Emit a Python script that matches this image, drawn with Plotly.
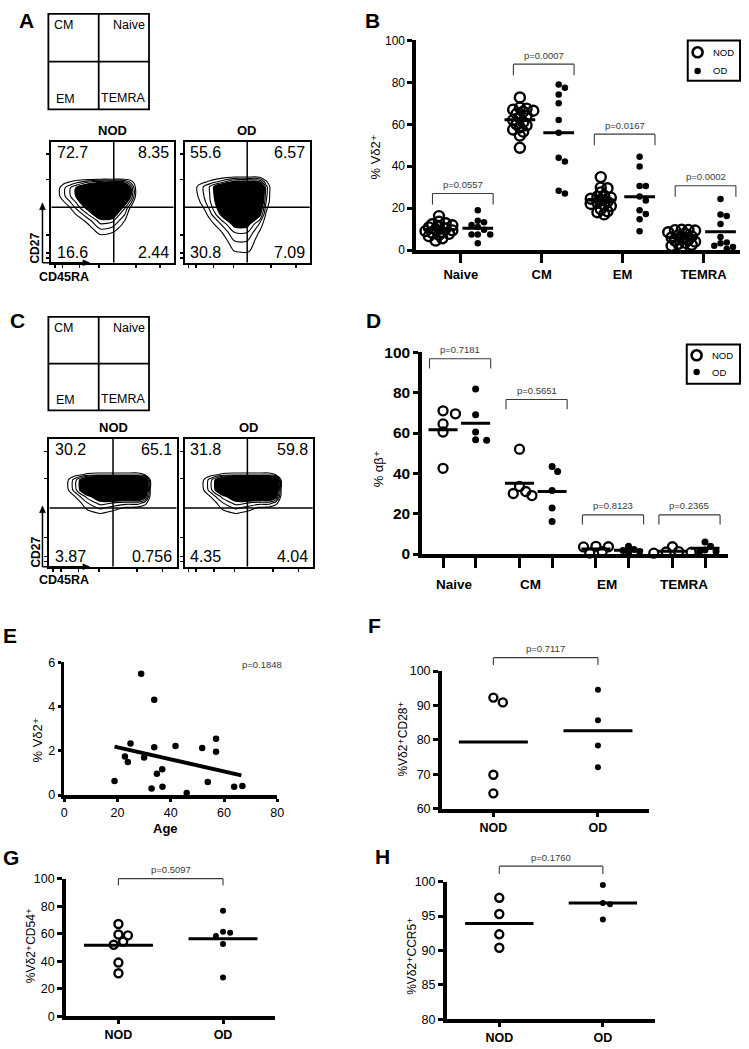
import numpy as np
import plotly.graph_objects as go

W, H = 749, 1049
FONT = "Liberation Sans, Arial, Helvetica, DejaVu Sans, sans-serif"

# ---------------------------------------------------------------- data
subsets = ["Naive", "CM", "EM", "TEMRA"]

# Panel B : % Vd2+ in each memory subset
B_naive_nod = [16.2, 13.5, 12.8, 12.3, 11.8, 11.2, 10.8, 10.3, 9.8, 9.4, 9.0, 8.6, 8.2, 7.7, 7.2, 6.6, 5.6, 4.5]
B_naive_od = [19.0, 14.0, 13.3, 12.0, 11.0, 9.7, 7.4, 7.4, 7.4, 3.2]
B_cm_nod = [72.8, 68.0, 67.5, 67.0, 66.5, 66.0, 65.0, 64.0, 63.0, 62.0, 61.0, 60.0, 59.5, 58.5, 57.5, 56.5, 54.6, 48.8]
B_cm_od = [79.0, 77.4, 74.2, 70.0, 62.0, 56.0, 44.0, 42.2, 28.3, 27.0]
B_em_nod = [34.8, 29.8, 29.5, 27.5, 26.0, 25.5, 25.0, 24.5, 24.0, 23.0, 22.5, 21.5, 22.0, 21.0, 19.5, 18.5, 18.0, 17.0]
B_em_od = [44.5, 39.9, 30.6, 30.6, 25.5, 23.6, 19.0, 17.2, 14.7, 9.0]
B_temra_nod = [9.7, 9.6, 9.5, 9.3, 8.5, 7.8, 7.0, 6.5, 6.0, 5.5, 5.0, 4.5, 4.0, 3.5, 3.0, 2.5, 2.0, 1.2]
B_temra_od = [24.4, 17.0, 16.2, 12.4, 6.2, 3.6, 3.2, 2.0, 1.5, 0.5]
B_pvalues = ["p=0.0557", "p=0.0007", "p=0.0167", "p=0.0002"]
B_bracket_top = [27.0, 88.7, 55.3, 30.7]

# Panel D : % alpha-beta+ in each memory subset
D_naive_nod = [71.0, 64.5, 69.5, 60.5, 42.5]
D_naive_od = [81.8, 69.0, 60.5, 56.7, 56.4]
D_cm_nod = [52.0, 33.5, 31.0, 30.0, 29.0]
D_cm_od = [43.4, 40.9, 31.5, 22.8, 16.1]
D_em_nod = [3.8, 3.5, 3.6, 1.2, 0.5]
D_em_od = [3.8, 2.2, 1.8, 1.2, 0.6]
D_temra_nod = [3.6, 1.2, 1.0, 0.8, 0.4]
D_temra_od = [6.0, 3.8, 2.0, 1.2, 1.0]
D_pvalues = ["p=0.7181", "p=0.5651", "p=0.8123", "p=0.2365"]
D_bracket_top = [96.8, 76.6, 19.4, 19.4]

# Panel E : % Vd2+ versus age
E_age = [18.9, 22.8, 23.9, 24.9, 28.9, 30.0, 32.8, 33.8, 33.8, 34.8, 36.8, 36.9, 41.8, 46.0, 51.8, 53.9, 57.0, 57.0, 63.8, 66.9]
E_vd2 = [0.64, 1.74, 1.49, 2.33, 5.48, 1.70, 0.30, 4.31, 2.16, 0.96, 1.17, 0.37, 2.22, 0.09, 2.13, 0.59, 2.54, 1.96, 0.38, 0.41]
E_fit_age = [18.9, 66.5]
E_fit_vd2 = [2.19, 0.89]
E_pvalue = "p=0.1848"

# Panels F, G, H : NOD vs OD
groups = ["NOD", "OD"]
F_nod = [90.9, 92.3, 69.9, 64.5]
F_od = [94.6, 85.7, 78.4, 72.1]
F_pvalue = "p=0.7117"
G_nod = [67.1, 59.5, 58.8, 54.4, 52.0, 39.1, 31.3]
G_od = [76.7, 61.4, 60.7, 58.4, 52.5, 28.2]
G_pvalue = "p=0.5097"
H_nod = [97.65, 95.3, 92.35, 90.4]
H_od = [99.5, 96.9, 96.7, 94.5]
H_pvalue = "p=0.1760"

# Panels A, C : flow cytometry (CD45RA x CD27) density grids and gates
quad_names = ["CM", "Naive", "EM", "TEMRA"]
A_nod_pct = ["72.7", "8.35", "16.6", "2.44"]
A_od_pct = ["55.6", "6.57", "30.8", "7.09"]
C_nod_pct = ["30.2", "65.1", "3.87", "0.756"]
C_od_pct = ["31.8", "59.8", "4.35", "4.04"]
A_nod_gate = [0.51, 0.46]
A_od_gate = [0.50, 0.46]
C_nod_gate = [0.50, 0.46]
C_od_gate = [0.49, 0.46]

A_nod_x = [0, .05, .1, .15, .2, .3, .4, .5, .6, .65, .7, 1]
A_nod_y = [0, .15, .22, .28, .35, .45, .55, .62, .66, .7, 1]
A_nod_z = [
    [0, 0, 0, 0, 0, 0, 0, 0, 0, 0, 0, 0],
    [0, 0, 0, 0, 0, 0, 0, 0, 0, 0, 0, 0],
    [0, 0, 0, 0, 0, 0, 0.7, 0.4, 0, 0, 0, 0],
    [0, 0, 0, 0, 0, 0.3, 2, 1.6, 0.2, 0, 0, 0],
    [0, 0, 0, 0, 0, 1.5, 3.6, 3.3, 1, 0, 0, 0],
    [0, 0, 0, 0.8, 2, 4.5, 7.5, 7.5, 3, 0.5, 0, 0],
    [0, 0.55, 1.7, 2.85, 4, 6.3, 9, 10, 7, 4, 0, 0],
    [0, 0.55, 1.7, 2.85, 4, 6.3, 9, 10, 7, 4, 0, 0],
    [0, 0.3, 0.8, 1.3, 2, 3.5, 4.5, 4.5, 4, 2, 0, 0],
    [0, 0, 0, 0, 0, 0, 0, 0, 0, 0, 0, 0],
    [0, 0, 0, 0, 0, 0, 0, 0, 0, 0, 0, 0],
]
A_od_x = [0, .05, .1, .15, .2, .3, .4, .5, .6, .65, .7, 1]
A_od_y = [0, .06, .1, .18, .25, .32, .4, .5, .58, .63, .67, .72, 1]
A_od_z = [
    [0, 0, 0, 0, 0, 0, 0, 0, 0, 0, 0, 0],
    [0, 0, 0, 0, 0, 0, 0.3, 0.4, 0, 0, 0, 0],
    [0, 0, 0, 0, 0, 0, 1.1, 1.3, 0, 0, 0, 0],
    [0, 0, 0, 0, 0, 0.2, 2, 2, 0.3, 0, 0, 0],
    [0, 0, 0, 0, 0, 1, 3, 3, 0.8, 0, 0, 0],
    [0, 0, 0, 0, 0.3, 2.2, 4.6, 4.6, 1.8, 0.1, 0, 0],
    [0, 0, 0, 0.3, 1.5, 4.5, 7.5, 7.5, 4.5, 0.8, 0, 0],
    [0, 0, 0.5, 1.5, 2.8, 5.5, 9, 9, 7, 2, 0, 0],
    [0, 0, 1, 2, 3, 6, 10, 10, 8, 2.5, 0, 0],
    [0, 0, 1, 2, 3, 6, 10, 10, 8, 2.5, 0, 0],
    [0, 0, 0.3, 0.7, 1.2, 2.5, 4.5, 4.5, 4, 1.2, 0, 0],
    [0, 0, 0, 0, 0, 0, 0, 0, 0, 0, 0, 0],
    [0, 0, 0, 0, 0, 0, 0, 0, 0, 0, 0, 0],
]
C_nod_x = [0, .1, .15, .2, .25, .3, .4, .5, .6, .7, .75, .8, 1]
C_od_x = [0, .1, .15, .2, .25, .3, .4, .5, .58, .66, .71, .76, 1]
C_y = [0, .38, .42, .46, .5, .55, .6, .68, .72, .76, 1]
C_z = [
    [0, 0, 0, 0, 0, 0, 0, 0, 0, 0, 0, 0, 0],
    [0, 0, 0, 0, 0, 0, 0, 0, 0, 0, 0, 0, 0],
    [0, 0, 0, 0, 0, 0.5, 1.1, 0.6, 0, 0, 0, 0, 0],
    [0, 0, 0, 0, 0.5, 1.3, 2.2, 1.5, 0.8, 0.6, 0.3, 0, 0],
    [0, 0, 0, 0.3, 1, 2, 3.5, 3, 2.5, 2.5, 1.5, 0, 0],
    [0, 0, 0.2, 1, 2.2, 3.5, 5.5, 7, 7, 7, 5, 0, 0],
    [0, 0, 1, 2.5, 4.5, 7, 10, 10, 10, 10, 7, 0, 0],
    [0, 0, 1, 2.5, 4.5, 7, 10, 10, 10, 10, 7, 0, 0],
    [0, 0, 0.2, 0.5, 0.9, 1.3, 1.5, 1.5, 1.5, 1.5, 1, 0, 0],
    [0, 0, 0, 0, 0, 0, 0, 0, 0, 0, 0, 0, 0],
    [0, 0, 0, 0, 0, 0, 0, 0, 0, 0, 0, 0, 0],
]

# ---------------------------------------------------------------- geometry helpers
def rng_from(d0, d1, a, pa, b, pb):
    s = (b - a) / (pb - pa)
    return [a + (d0 - pa) * s, a + (d1 - pa) * s]

GEOM = {}

def geom(name, n, x0, x1, yt, yb, xr, yr):
    GEOM[name] = dict(n=n, x0=x0, x1=x1, yt=yt, yb=yb, xr=xr, yr=yr)
    return GEOM[name]

def pxx(g, v):
    return g["x0"] + (v - g["xr"][0]) / (g["xr"][1] - g["xr"][0]) * (g["x1"] - g["x0"])

def pxy(g, v):
    return g["yb"] - (v - g["yr"][0]) / (g["yr"][1] - g["yr"][0]) * (g["yb"] - g["yt"])

def vx(g, p):
    return g["xr"][0] + (p - g["x0"]) / (g["x1"] - g["x0"]) * (g["xr"][1] - g["xr"][0])

def vy(g, p):
    return g["yr"][0] + (g["yb"] - p) / (g["yb"] - g["yt"]) * (g["yr"][1] - g["yr"][0])

def ax_ids(g):
    n = g["n"]
    return ("x", "y") if n == 1 else (f"x{n}", f"y{n}")

gB = geom("B", 1, 419, 747, 32, 245, rng_from(419, 747, 1, 464, 4, 710), [0, 100])
gD = geom("D", 2, 425, 735, 349, 554, rng_from(425, 735, 1, 462.5, 4, 695), [0, 100])
gE = geom("E", 3, 62, 278, 664, 799, [0, 80], [0, 6])
gF = geom("F", 4, 445, 655, 673, 813, rng_from(445, 655, 0, 497, 1, 603), [60, 100])
gG = geom("G", 5, 64, 276, 884, 1024, rng_from(64, 276, 0, 117, 1, 223), [0, 100])
gH = geom("H", 6, 450, 661, 887, 1027, rng_from(450, 661, 0, 503, 1, 608), [80, 100])
gA1 = geom("A1", 7, 49, 173, 135, 258, [0, 1], [0, 1])
gA2 = geom("A2", 8, 184, 311, 135, 258, [0, 1], [0, 1])
gC1 = geom("C1", 9, 47, 176, 437, 567, [0, 1], [0, 1])
gC2 = geom("C2", 10, 184, 314, 437, 567, [0, 1], [0, 1])


def swarm(vals, center, g, d, step=0.5, thr=0.8):
    sx = (g["x1"] - g["x0"]) / (g["xr"][1] - g["xr"][0])
    sy = (g["yb"] - g["yt"]) / (g["yr"][1] - g["yr"][0])
    placed, xs = [], [0.0] * len(vals)
    order = sorted(range(len(vals)), key=lambda i: -vals[i])
    cands = [0]
    for j in range(1, 30):
        cands += [j, -j]
    for i in order:
        y = vals[i] * sy
        x = 0.0
        for c in cands:
            x = c * d * step
            if all((x - a) ** 2 + (y - b) ** 2 >= (d * thr) ** 2 for a, b in placed):
                break
        placed.append((x, y))
        xs[i] = center + x / sx
    return xs


fig = go.Figure()
shapes, annotations = [], []
layout = dict(width=W, height=H, margin=dict(l=0, r=0, t=0, b=0),
              paper_bgcolor="white", plot_bgcolor="white", showlegend=False,
              font=dict(family=FONT, color="black"))


def P(xp, yp):
    return xp / W, 1 - yp / H


def ann(text, xp, yp, size, bold=False, xanchor="center", yanchor="middle", angle=0, color="black"):
    x, y = P(xp, yp)
    annotations.append(dict(text=text, x=x, y=y, xref="paper", yref="paper", showarrow=False,
                            xanchor=xanchor, yanchor=yanchor, textangle=angle,
                            font=dict(family=FONT, size=size, color=color,
                                      weight="bold" if bold else "normal")))


def pline(x0p, y0p, x1p, y1p, width=1.5, color="black"):
    a, b = P(x0p, y0p)
    c, d = P(x1p, y1p)
    shapes.append(dict(type="line", xref="paper", yref="paper", x0=a, y0=b, x1=c, y1=d,
                       line=dict(color=color, width=width)))


def ppoly(pts, color="black"):
    path = ""
    for k, (xp, yp) in enumerate(pts):
        x, y = P(xp, yp)
        path += ("M" if k == 0 else "L") + f"{x},{y} "
    shapes.append(dict(type="path", xref="paper", yref="paper", path=path + "Z",
                       fillcolor=color, line=dict(color=color, width=0.5)))


def bracket(g, x0, x1, ytop, ybot, text, color="#3a3a3a"):
    X0, X1 = pxx(g, x0), pxx(g, x1)
    Yt, Yb = pxy(g, ytop), pxy(g, ybot)
    pline(X0, Yb, X0, Yt, 1.1, color)
    pline(X0, Yt, X1, Yt, 1.1, color)
    pline(X1, Yt, X1, Yb, 1.1, color)
    ann(text, (X0 + X1) / 2, Yt - 1.5, 9.5, yanchor="bottom", color=color)


def set_axes(g, xkw, ykw):
    n = g["n"]
    xa, ya = ("xaxis", "yaxis") if n == 1 else (f"xaxis{n}", f"yaxis{n}")
    xid, yid = ax_ids(g)
    base = dict(showgrid=False, zeroline=False, showline=True, linecolor="black",
                ticks="outside", tickcolor="black", fixedrange=True)
    xd = dict(base, domain=[g["x0"] / W, g["x1"] / W], range=g["xr"], anchor=yid)
    yd = dict(base, domain=[1 - g["yb"] / H, 1 - g["yt"] / H], range=g["yr"], anchor=xid)
    xd.update(xkw)
    yd.update(ykw)
    layout[xa] = xd
    layout[ya] = yd


def dots(g, xs, ys, open_marker, size, lw=2.3):
    xid, yid = ax_ids(g)
    if open_marker:
        m = dict(symbol="circle-open", size=size, color="black", line=dict(width=lw, color="black"))
    else:
        m = dict(symbol="circle", size=size, color="black", line=dict(width=0))
    fig.add_trace(go.Scatter(x=xs, y=ys, mode="markers", marker=m, xaxis=xid, yaxis=yid,
                             cliponaxis=False, hoverinfo="skip"))


def seg(g, x0, x1, y, width=3):
    xid, yid = ax_ids(g)
    fig.add_trace(go.Scatter(x=[x0, x1], y=[y, y], mode="lines", line=dict(color="black", width=width),
                             xaxis=xid, yaxis=yid, cliponaxis=False, hoverinfo="skip"))


def legend_box(g, x0p, x1p, ytp, ybp, y1p, y2p):
    a, b = P(x0p, ytp)
    c, d = P(x1p, ybp)
    shapes.append(dict(type="rect", xref="paper", yref="paper", x0=a, y0=d, x1=c, y1=b,
                       line=dict(color="black", width=2)))
    dots(g, [vx(g, x0p + 10)], [vy(g, y1p)], True, 10, 2.6)
    dots(g, [vx(g, x0p + 10)], [vy(g, y2p)], False, 6.5)
    ann("NOD", x0p + 24, y1p, 9.5, xanchor="left")
    ann("OD", x0p + 24, y2p, 9.5, xanchor="left")


tick_font = dict(family=FONT, size=12, color="black")

# ---------------------------------------------------------------- panel B
B_nod_all = [B_naive_nod, B_cm_nod, B_em_nod, B_temra_nod]
B_od_all = [B_naive_od, B_cm_od, B_em_od, B_temra_od]
for i in range(4):
    c = i + 1
    xn, xo = c - 0.27, c + 0.21
    seg(gB, xn - 0.19, xn + 0.19, float(np.mean(B_nod_all[i])))
    seg(gB, xo - 0.19, xo + 0.19, float(np.mean(B_od_all[i])))
    dots(gB, swarm(B_nod_all[i], xn, gB, 10, 0.34, 0.45), B_nod_all[i], True, 10, 2.4)
    dots(gB, swarm(B_od_all[i], xo, gB, 7, 0.9, 0.9), B_od_all[i], False, 6.5)
    bracket(gB, c - 0.35, c + 0.40, B_bracket_top[i], B_bracket_top[i] - 5.3, B_pvalues[i])
set_axes(gB,
         dict(tickvals=[1, 2, 3, 4], ticktext=[f"<b>{s}</b>" for s in subsets], linewidth=4,
              tickwidth=3, ticklen=9, tickfont=dict(family=FONT, size=13, color="black")),
         dict(tickvals=[0, 20, 40, 60, 80, 100], linewidth=4, tickwidth=3, ticklen=5, tickfont=tick_font))
ann("% Vδ2⁺", 378, 150, 13, angle=-90)
legend_box(gB, 694, 747, 32, 73, 44, 63)

# ---------------------------------------------------------------- panel D
D_nod_all = [D_naive_nod, D_cm_nod, D_em_nod, D_temra_nod]
D_od_all = [D_naive_od, D_cm_od, D_em_od, D_temra_od]
col_ticks = []
for i in range(4):
    c = i + 1
    xn, xo = c - 0.213, c + 0.213
    col_ticks += [xn, xo]
    seg(gD, xn - 0.19, xn + 0.19, float(np.mean(D_nod_all[i])))
    seg(gD, xo - 0.19, xo + 0.19, float(np.mean(D_od_all[i])))
    dots(gD, swarm(D_nod_all[i], xn, gD, 9, 0.7, 0.8), D_nod_all[i], True, 9, 2.3)
    dots(gD, swarm(D_od_all[i], xo, gD, 7, 0.8, 0.85), D_od_all[i], False, 7)
    bracket(gD, c - 0.39, c + 0.41, D_bracket_top[i], D_bracket_top[i] - 4.8, D_pvalues[i])
    ann(f"<b>{subsets[i]}</b>", pxx(gD, c) - 5, 585, 13.5)
set_axes(gD,
         dict(tickvals=col_ticks, showticklabels=False, linewidth=4, tickwidth=3, ticklen=10),
         dict(tickvals=[0, 20, 40, 60, 80, 100], linewidth=4, tickwidth=3, ticklen=5,
              tickfont=dict(family=FONT, size=15.5, color="black", weight="bold")))
ann("% αβ⁺", 381, 467, 13, angle=-90)
legend_box(gD, 693, 747, 341, 381, 352, 369)

# ---------------------------------------------------------------- panel E
dots(gE, E_age, E_vd2, False, 6.5)
fig.add_trace(go.Scatter(x=E_fit_age, y=E_fit_vd2, mode="lines", line=dict(color="black", width=4),
                         xaxis="x3", yaxis="y3", hoverinfo="skip"))
set_axes(gE,
         dict(tickvals=[0, 20, 40, 60, 80], linewidth=3.5, tickwidth=3, ticklen=3,
              tickfont=dict(family=FONT, size=12.5, color="black")),
         dict(tickvals=[0, 2, 4, 6], linewidth=3.5, tickwidth=3, ticklen=3,
              tickfont=dict(family=FONT, size=12.5, color="black")))
ann("<b>Age</b>", 165, 833, 13)
ann("% Vδ2⁺", 35, 743, 13, angle=-90)
ann(E_pvalue, 262, 666, 9.5, color="#3a3a3a")

# ---------------------------------------------------------------- panels F, G, H
def two_group(g, nod, od, pval, ytop, ybot, ytitle, ytitle_xy, ticks, dsize=8):
    seg(g, -0.33, 0.33, float(np.mean(nod)))
    seg(g, 0.67, 1.33, float(np.mean(od)))
    dots(g, swarm(nod, 0, g, dsize, 0.6, 0.9), nod, True, dsize, 2.4)
    dots(g, swarm(od, 1, g, 6, 1.2, 0.9), od, False, 6)
    bracket(g, 0, 1, ytop, ybot, pval)
    set_axes(g,
             dict(tickvals=[0, 1], ticktext=[f"<b>{s}</b>" for s in groups], linewidth=4, tickwidth=3,
                  ticklen=4, tickfont=dict(family=FONT, size=12.5, color="black")),
             dict(tickvals=ticks, linewidth=4, tickwidth=3, ticklen=5,
                  tickfont=dict(family=FONT, size=12.5, color="black")))
    ann(ytitle, ytitle_xy[0], ytitle_xy[1], 12, angle=-90)


two_group(gF, F_nod, F_od, F_pvalue, 103.9, 101.8, "%Vδ2⁺CD28⁺", (405, 742),
          [60, 70, 80, 90, 100])
two_group(gG, G_nod, G_od, G_pvalue, 100.0, 95.1, "%Vδ2⁺CD54⁺", (28, 952),
          [0, 20, 40, 60, 80, 100])
two_group(gH, H_nod, H_od, H_pvalue, 102.25, 101.1, "%Vδ2⁺CCR5⁺", (415, 963),
          [80, 85, 90, 95, 100])

# ---------------------------------------------------------------- flow panels A, C
flow_cs = [[0, "white"], [0.37, "white"], [0.38, "black"], [1, "black"]]


def flow(g, xg, yg, zg, gate, pct, title):
    xid, yid = ax_ids(g)
    fig.add_trace(go.Contour(x=xg, y=yg, z=zg, xaxis=xid, yaxis=yid, zmin=0, zmax=10,
                             contours=dict(start=1, end=10, size=1, coloring="fill"),
                             colorscale=flow_cs, showscale=False, hoverinfo="skip",
                             line=dict(color="black", width=1.1, smoothing=0.85)))
    shapes.append(dict(type="line", xref=xid, yref=yid, x0=gate[0], x1=gate[0], y0=0, y1=1,
                       line=dict(color="black", width=1.5)))
    shapes.append(dict(type="line", xref=xid, yref=yid, x0=0, x1=1, y0=gate[1], y1=gate[1],
                       line=dict(color="black", width=1.5)))
    set_axes(g,
             dict(tickvals=[0.03, 0.09, 0.23, 0.39, 0.69, 0.89], showticklabels=False, linewidth=2,
                  mirror=True, tickwidth=1.5, ticklen=3),
             dict(tickvals=[0.04, 0.08, 0.23, 0.69, 0.9], showticklabels=False, linewidth=2,
                  mirror=True, tickwidth=1.5, ticklen=3))
    ann(pct[0], g["x0"] + 4, g["yt"] + 11, 16, xanchor="left")
    ann(pct[1], g["x1"] - 3, g["yt"] + 11, 16, xanchor="right")
    ann(pct[2], g["x0"] + 4, g["yb"] - 10, 16, xanchor="left")
    ann(pct[3], g["x1"] - 3, g["yb"] - 10, 16, xanchor="right")
    ann(f"<b>{title}</b>", (g["x0"] + g["x1"]) / 2, g["yt"] - 12, 13)


flow(gA1, A_nod_x, A_nod_y, A_nod_z, A_nod_gate, A_nod_pct, "NOD")
flow(gA2, A_od_x, A_od_y, A_od_z, A_od_gate, A_od_pct, "OD")
flow(gC1, C_nod_x, C_y, C_z, C_nod_gate, C_nod_pct, "NOD")
flow(gC2, C_od_x, C_y, C_z, C_od_gate, C_od_pct, "OD")


def quad_key(x0p, x1p, ytp, ybp):
    a, b = P(x0p, ytp)
    c, d = P(x1p, ybp)
    shapes.append(dict(type="rect", xref="paper", yref="paper", x0=a, y0=d, x1=c, y1=b,
                       line=dict(color="black", width=1.8)))
    xm, ym = (x0p + x1p) / 2, (ytp + ybp) / 2
    pline(xm, ytp, xm, ybp, 1.8)
    pline(x0p, ym, x1p, ym, 1.8)
    ann(quad_names[0], x0p + 4, ytp + 11, 12.5, xanchor="left")
    ann(quad_names[1], x1p - 2, ytp + 11, 12.5, xanchor="right")
    ann(quad_names[2], x0p + 6, ybp - 11, 12.5, xanchor="left")
    ann(quad_names[3], x1p - 2, ybp - 12, 12.5, xanchor="right")


quad_key(46, 148, 5, 102)
quad_key(46, 148, 313, 408)


def axis_arrows(ybase, ytop, txt_y27, txt_y45):
    # vertical (CD27) arrow
    pline(40, ybase, 40, ytop + 5, 1.5)
    ppoly([(40, ytop), (37, ytop + 7), (43, ytop + 7)])
    # horizontal (CD45RA) arrow
    pline(40, ybase, 83, ybase, 1.5)
    ppoly([(88, ybase), (81, ybase - 3), (81, ybase + 3)])
    ann("<b>CD27</b>", 33, txt_y27, 12, angle=-90)
    ann("<b>CD45RA</b>", 62, txt_y45, 12.5)


axis_arrows(258, 197, 243, 272)
axis_arrows(567, 505, 552, 580)

# ---------------------------------------------------------------- panel letters
for letter, xp, yp in [("A", 24, 12), ("B", 375, 12), ("C", 15, 317), ("D", 376, 317),
                       ("E", 7, 637), ("F", 377, 627), ("G", 8, 862), ("H", 385, 861)]:
    ann(f"<b>{letter}</b>", xp, yp, 21)

layout["shapes"] = shapes
layout["annotations"] = annotations
fig.update_layout(**layout)
fig.write_html("out.html", config={"displayModeBar": False, "staticPlot": True},
               post_script="document.body.style.margin='0px';document.body.style.overflow='hidden';")
